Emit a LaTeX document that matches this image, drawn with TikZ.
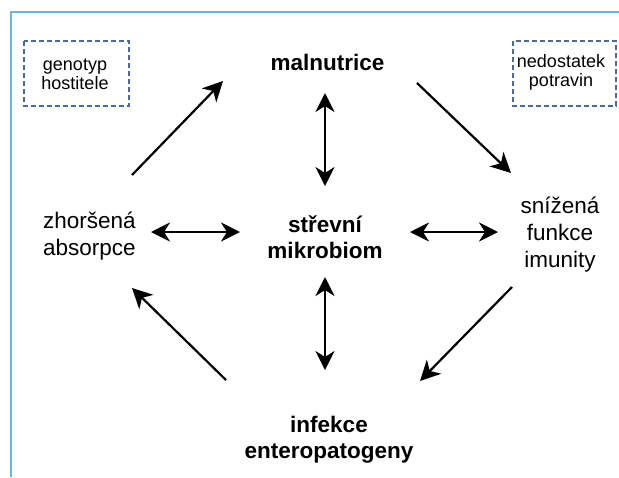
\documentclass[tikz,border=0pt]{standalone}
\usepackage{fontspec}
\setmainfont{Liberation Sans}
\usetikzlibrary{arrows.meta}
\definecolor{framec}{HTML}{6AB4E8}
\definecolor{dashc}{HTML}{4A6A9C}
\tikzset{
  big/.style={font=\fontsize{22.5}{27}\selectfont, inner sep=0pt, align=center},
  bigb/.style={font=\fontsize{22.5}{26}\selectfont\bfseries, inner sep=0pt, align=center},
  small/.style={font=\fontsize{18}{19}\selectfont, inner sep=0pt, align=center},
  dbox/.style={draw=dashc, line width=2pt, dash pattern=on 5pt off 3pt},
  arr/.style={line width=2.2pt, -{Stealth[length=20pt,width=20pt,inset=6pt]}},
  darr/.style={line width=2.2pt, {Stealth[length=19pt,width=19pt,inset=6pt]}-{Stealth[length=19pt,width=19pt,inset=6pt]}}
}
\begin{document}
\begin{tikzpicture}[x=1pt,y=-1pt]
\useasboundingbox (0,0) rectangle (619,477);
\fill[white] (0,0) rectangle (619,477);
% frame
\coordinate (f1) at (11,477);
\coordinate (f2) at (11,12);
\coordinate (f3) at (619,12);
\draw[framec, line width=1.5pt] (f1) -- (f2) -- (f3);
% dashed boxes
\draw[dbox] (24,41) rectangle (129,106);
\draw[dbox] (513,41) rectangle (616,106);
\node[small, anchor=base] (geno) at (75,89) {genotyp\\hostitele};
\node[small, anchor=base] (nedo) at (561,86) {nedostatek\\potravin};
% main texts
\node[bigb, anchor=base] (maln) at (327.5,70) {malnutrice};
\node[bigb, anchor=base] (mikro) at (325,258) {střevní\\mikrobiom};
\node[big, anchor=base west, align=left] (abs) at (43,255) {zhoršená\\absorpce};
\node[big, anchor=base] (imun) at (560,267) {snížená\\funkce\\imunity};
\node[bigb, anchor=base] (infe) at (329,458) {infekce\\enteropatogeny};
% arrow end points
\coordinate (a1s) at (132,175); \coordinate (a1e) at (223,81);
\coordinate (a2s) at (417,83);  \coordinate (a2e) at (511,173);
\coordinate (a3s) at (512,287); \coordinate (a3e) at (420,381);
\coordinate (a4s) at (226,380); \coordinate (a4e) at (132,288);
\coordinate (v1s) at (325,93);  \coordinate (v1e) at (325,186);
\coordinate (v2s) at (325,277); \coordinate (v2e) at (325,370);
\coordinate (h1s) at (151,232); \coordinate (h1e) at (240,232);
\coordinate (h2s) at (410,232); \coordinate (h2e) at (498,232);
\draw[arr] (a1s) -- (a1e);
\draw[arr] (a2s) -- (a2e);
\draw[arr] (a3s) -- (a3e);
\draw[arr] (a4s) -- (a4e);
\draw[darr] (v1s) -- (v1e);
\draw[darr] (v2s) -- (v2e);
\draw[darr] (h1s) -- (h1e);
\draw[darr] (h2s) -- (h2e);
\end{tikzpicture}
\end{document}
